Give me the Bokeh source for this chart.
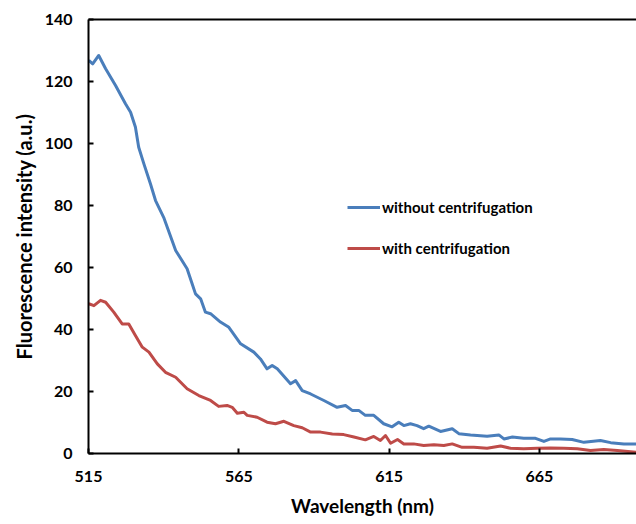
from bokeh.plotting import figure
from bokeh.models import Range1d, FixedTicker, LinearAxis, Legend, LegendItem
from bokeh.embed import file_html
from bokeh.resources import INLINE

# Blue series: without centrifugation
wl_without = [515.1, 516.4, 518.4, 520.7, 524.0, 527.3, 529.0, 530.6, 531.7, 533.4, 535.6,
              537.3, 540.0, 544.0, 547.8, 549.5, 550.6, 552.3, 553.9, 555.6, 558.9, 561.7,
              565.6, 570.0, 572.2, 574.4, 576.1, 577.8, 582.2, 583.9, 586.1, 588.9, 593.3,
              597.7, 600.5, 602.7, 604.9, 607.1, 609.9, 613.2, 616.0, 618.2, 619.9, 622.1,
              624.3, 626.5, 628.2, 632.1, 636.0, 638.2, 642.1, 647.6, 651.5, 653.2, 656.0,
              659.8, 663.7, 666.5, 668.7, 672.0, 675.9, 679.8, 685.3, 688.7, 693.1, 697.3]
int_without = [126.8, 125.7, 128.4, 124.1, 118.7, 112.8, 110.1, 105.3, 98.8, 93.5, 87.0,
               81.6, 76.2, 65.5, 59.6, 54.7, 51.5, 49.9, 45.6, 45.1, 42.4, 40.7,
               35.4, 32.7, 30.5, 27.3, 28.4, 27.3, 22.5, 23.5, 20.3, 19.2, 17.1,
               14.9, 15.5, 13.9, 13.9, 12.3, 12.3, 9.6, 8.6, 10.1, 9.0, 9.6,
               9.0, 8.0, 8.8, 7.1, 8.0, 6.4, 6.0, 5.6, 6.0, 4.7, 5.3,
               4.9, 4.9, 3.9, 4.7, 4.7, 4.5, 3.6, 4.2, 3.5, 3.1, 3.1]

# Red series: with centrifugation
wl_with = [515.1, 516.8, 519.0, 520.7, 523.4, 526.2, 528.4, 530.6, 532.9, 535.1, 537.9,
           540.6, 544.0, 547.8, 551.7, 555.6, 558.3, 561.1, 562.8, 564.5, 566.7, 567.8,
           571.1, 574.4, 577.2, 580.0, 583.3, 586.1, 588.9, 592.2, 596.1, 599.9, 603.3,
           607.1, 609.9, 612.1, 613.8, 615.5, 617.8, 619.9, 623.2, 626.5, 629.9, 633.2,
           636.0, 639.3, 643.2, 647.6, 652.1, 655.4, 659.8, 664.3, 668.7, 673.1, 677.6,
           682.0, 686.4, 690.9, 697.3]
int_with = [48.3, 47.7, 49.4, 48.8, 45.6, 41.8, 41.8, 38.1, 34.3, 32.7, 28.9,
            26.2, 24.6, 20.9, 18.7, 17.1, 15.2, 15.5, 14.9, 13.0, 13.3, 12.3,
            11.7, 10.1, 9.6, 10.4, 9.0, 8.3, 6.9, 6.9, 6.3, 6.1, 5.3,
            4.4, 5.5, 4.2, 5.8, 3.3, 4.5, 3.1, 3.1, 2.6, 2.8, 2.6,
            3.1, 2.0, 2.0, 1.7, 2.4, 1.7, 1.5, 1.7, 1.8, 1.7, 1.5,
            1.0, 1.3, 1.0, 0.4]

x_ticks = [515, 565, 615, 665]
y_ticks = [0, 20, 40, 60, 80, 100, 120, 140]

FONT = "Lato"

p = figure(width=636, height=524, output_backend="svg", toolbar_location=None,
           x_range=Range1d(515, 697.3), y_range=Range1d(0, 140),
           min_border_left=88, min_border_top=19, min_border_bottom=71,
           min_border_right=0)
p.outline_line_color = None
p.xgrid.visible = False
p.ygrid.visible = False
p.background_fill_color = "white"

r1 = p.line(wl_without, int_without, line_color="#4A7EBB", line_width=3,
            line_join="round")
r2 = p.line(wl_with, int_with, line_color="#BE4B48", line_width=3,
            line_join="round")

for ax in (p.xaxis[0], p.yaxis[0]):
    ax.axis_line_color = "black"
    ax.axis_line_width = 2
    ax.major_tick_line_color = "black"
    ax.major_tick_line_width = 2
    ax.major_tick_in = 5
    ax.major_tick_out = 0
    ax.minor_tick_line_color = None
    ax.major_label_text_font = FONT
    ax.major_label_text_font_style = "bold"
    ax.major_label_text_font_size = "16px"
    ax.major_label_text_color = "black"
    ax.axis_label_text_font = FONT
    ax.axis_label_text_font_style = "bold"
    ax.axis_label_text_color = "black"

p.xaxis[0].ticker = FixedTicker(ticks=x_ticks)
p.yaxis[0].ticker = FixedTicker(ticks=y_ticks)
p.xaxis[0].axis_label = "Wavelength (nm)"
p.yaxis[0].axis_label = "Fluorescence intensity (a.u.)"
p.xaxis[0].axis_label_text_font_size = "19px"
p.yaxis[0].axis_label_text_font_size = "20px"
p.xaxis[0].major_label_standoff = 17
p.yaxis[0].major_label_standoff = 16
p.xaxis[0].axis_label_standoff = 9
p.yaxis[0].axis_label_standoff = 6

top = LinearAxis(ticker=FixedTicker(ticks=[]), axis_line_width=2,
                 axis_line_color="black", major_label_text_font_size="0px",
                 major_tick_in=0, major_tick_out=0, minor_tick_in=0, minor_tick_out=0)
p.add_layout(top, "above")

legend = Legend(items=[LegendItem(label="without centrifugation", renderers=[r1]),
                       LegendItem(label="with centrifugation", renderers=[r2])],
                location=(259, 195), orientation="vertical",
                border_line_color=None, background_fill_alpha=0,
                padding=0, margin=0, spacing=21, glyph_width=33, glyph_height=20,
                label_height=20, label_standoff=2,
                label_text_font=FONT, label_text_font_style="bold",
                label_text_font_size="15px", label_text_color="black")
p.add_layout(legend)

open("out.html", "w").write(file_html(p, INLINE))
